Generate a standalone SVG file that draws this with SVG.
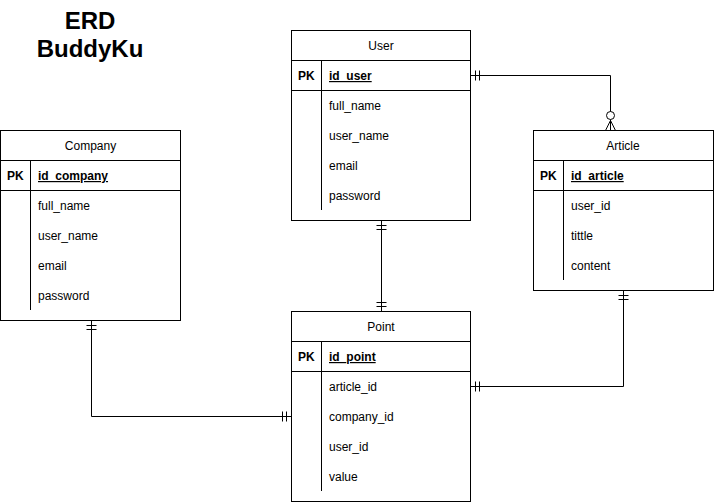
<svg xmlns="http://www.w3.org/2000/svg" width="714" height="502" viewBox="0 0 714 502">
<style>
.box{fill:#fff;stroke:#000;stroke-width:1}
.ln{stroke:#000;stroke-width:1;fill:none}
.t{font-family:"Liberation Sans",Arial,sans-serif;font-size:12px;fill:#000}
.h{text-anchor:middle}
.b{font-weight:bold}
.u{text-decoration:underline}
.title{font-family:"Liberation Sans",Arial,sans-serif;font-size:24px;font-weight:bold;text-anchor:middle;fill:#000}
.c{stroke:#000;stroke-width:1;fill:none}
</style>
<rect width="714" height="502" fill="#fff"/>
<g id="title">
<text class="title" x="90" y="29">ERD</text>
<text class="title" x="90" y="57">BuddyKu</text>
</g>
<g id="company">
<rect class="box" x="0.5" y="130.5" width="180" height="190"/>
<line class="ln" x1="0.5" y1="160.5" x2="180.5" y2="160.5"/>
<line class="ln" x1="0.5" y1="190.5" x2="180.5" y2="190.5"/>
<line class="ln" x1="30.5" y1="160.5" x2="30.5" y2="310"/>
<text class="t h" x="90.5" y="150">Company</text>
<text class="t b" x="7" y="180">PK</text>
<text class="t b u" x="38" y="180">id_company</text>
<text class="t" x="38" y="210">full_name</text>
<text class="t" x="38" y="240">user_name</text>
<text class="t" x="38" y="270">email</text>
<text class="t" x="38" y="300">password</text>
</g>
<g id="user">
<rect class="box" x="291.5" y="30.5" width="179" height="190"/>
<line class="ln" x1="291.5" y1="60.5" x2="470.5" y2="60.5"/>
<line class="ln" x1="291.5" y1="90.5" x2="470.5" y2="90.5"/>
<line class="ln" x1="321.5" y1="60.5" x2="321.5" y2="210"/>
<text class="t h" x="381" y="50">User</text>
<text class="t b" x="298" y="80">PK</text>
<text class="t b u" x="329" y="80">id_user</text>
<text class="t" x="329" y="110">full_name</text>
<text class="t" x="329" y="140">user_name</text>
<text class="t" x="329" y="170">email</text>
<text class="t" x="329" y="200">password</text>
</g>
<g id="article">
<rect class="box" x="533.5" y="130.5" width="180" height="160"/>
<line class="ln" x1="533.5" y1="160.5" x2="713.5" y2="160.5"/>
<line class="ln" x1="533.5" y1="190.5" x2="713.5" y2="190.5"/>
<line class="ln" x1="563.5" y1="160.5" x2="563.5" y2="280"/>
<text class="t h" x="623" y="150">Article</text>
<text class="t b" x="540" y="180">PK</text>
<text class="t b u" x="571" y="180">id_article</text>
<text class="t" x="571" y="210">user_id</text>
<text class="t" x="571" y="240">tittle</text>
<text class="t" x="571" y="270">content</text>
</g>
<g id="point">
<rect class="box" x="291.5" y="311.5" width="179" height="190"/>
<line class="ln" x1="291.5" y1="341.5" x2="470.5" y2="341.5"/>
<line class="ln" x1="291.5" y1="371.5" x2="470.5" y2="371.5"/>
<line class="ln" x1="321.5" y1="341.5" x2="321.5" y2="491"/>
<text class="t h" x="381" y="331">Point</text>
<text class="t b" x="298" y="361">PK</text>
<text class="t b u" x="329" y="361">id_point</text>
<text class="t" x="329" y="391">article_id</text>
<text class="t" x="329" y="421">company_id</text>
<text class="t" x="329" y="451">user_id</text>
<text class="t" x="329" y="481">value</text>
</g>
<g id="connectors">
<path class="c" d="M470.5 75.5 H610.5 V130.5"/>
<path class="c" d="M475.5 70.5 V80.5 M479.5 70.5 V80.5"/>
<circle cx="610.5" cy="115.5" r="4" fill="#fff" stroke="#000"/>
<path class="c" d="M610.5 120.5 L605.5 130.5 M610.5 120.5 L615.5 130.5 M610.5 120.5 V130.5"/>
<path class="c" d="M381.5 220.5 V311.5"/>
<path class="c" d="M376.5 225.5 H386.5 M376.5 229.5 H386.5 M376.5 302.5 H386.5 M376.5 306.5 H386.5"/>
<path class="c" d="M91.5 320.5 V416.5 H291.5"/>
<path class="c" d="M86.5 325.5 H96.5 M86.5 329.5 H96.5 M282.5 411.5 V421.5 M286.5 411.5 V421.5"/>
<path class="c" d="M623.5 290.5 V386.5 H470.5"/>
<path class="c" d="M618.5 295.5 H628.5 M618.5 299.5 H628.5 M475.5 381.5 V391.5 M479.5 381.5 V391.5"/>
</g>
</svg>
